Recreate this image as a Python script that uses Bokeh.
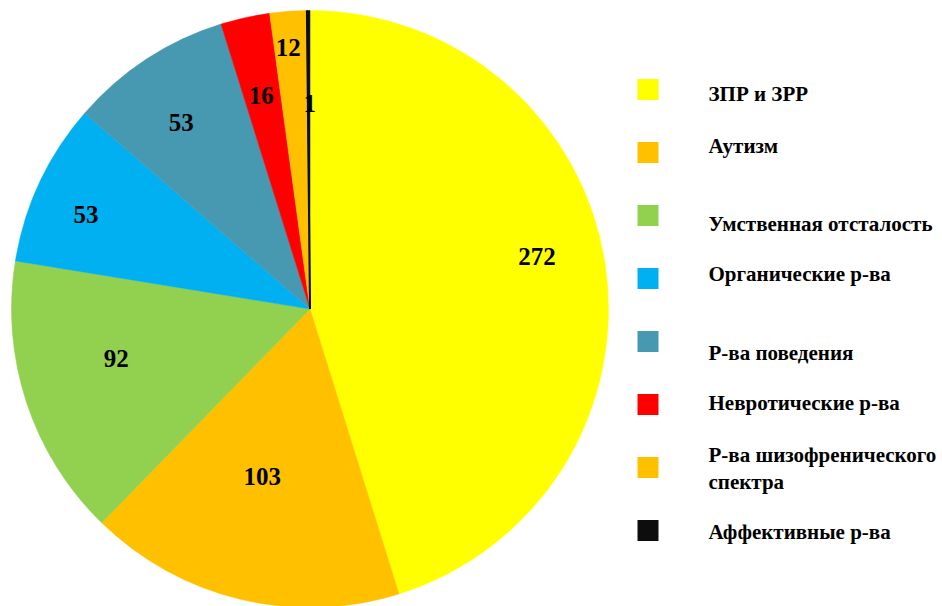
import math
from bokeh.plotting import figure
from bokeh.models import Range1d, ColumnDataSource
from bokeh.core.properties import value
from bokeh.embed import file_html
from bokeh.resources import INLINE

# ---- data ----
categories = ["ЗПР и ЗРР", "Аутизм", "Умственная отсталость", "Органические р-ва",
              "Р-ва поведения", "Невротические р-ва", "Р-ва шизофренического\nспектра",
              "Аффективные р-ва"]
counts = [272, 103, 92, 53, 53, 16, 12, 1]
colors = ["#FFFF00", "#FFC000", "#92D050", "#00B0F0", "#4699B0", "#FF0000", "#FFC000", "#0D0D0D"]

# ---- layout (screen-like coordinates, y measured up from bottom) ----
W, H = 942, 606
CX, CY, R = 309.5, H - 308.5, 298.5
label_r = [233, 174, 200, 243, 227, 219, 262, 206]
label_dtheta = [-4.3, 2.5, 4.0, -2.3, -1.4, -0.3, -0.6, 0.2]
FONT = "Liberation Serif"

p = figure(width=W, height=H, output_backend="svg", toolbar_location=None,
           x_range=Range1d(0, W), y_range=Range1d(0, H), min_border=0)
p.axis.visible = False
p.grid.visible = False
p.outline_line_color = None
p.background_fill_color = "white"
p.border_fill_color = "white"

total = sum(counts)
cum = 0
starts, ends, lx, ly = [], [], [], []
for i, v in enumerate(counts):
    a0 = math.pi / 2 - 2 * math.pi * cum / total
    a1 = math.pi / 2 - 2 * math.pi * (cum + v) / total
    starts.append(a1)
    ends.append(a0)
    mid = (cum + v / 2) / total * 360 + label_dtheta[i]  # clockwise from top, degrees
    lx.append(CX + label_r[i] * math.sin(math.radians(mid)))
    ly.append(CY + label_r[i] * math.cos(math.radians(mid)))
    cum += v

src = ColumnDataSource(dict(x=[CX] * len(counts), y=[CY] * len(counts), s=starts, e=ends,
                            c=colors, lx=lx, ly=ly, t=[str(v) for v in counts]))
p.wedge(x="x", y="y", radius=R, start_angle="s", end_angle="e", fill_color="c",
        line_color="c", line_width=0.5, source=src)
# emphasise the very thin last slice
last = len(counts) - 1
p.segment(x0=[CX], y0=[CY], x1=[CX + R * math.cos(ends[last])], y1=[CY + R * math.sin(ends[last])],
          line_color=colors[last], line_width=2)

p.text(x="lx", y="ly", text="t", source=src, text_font=value(FONT), text_font_style="bold",
       text_font_size="25px", text_align="center", text_baseline="middle", text_color="black")

# ---- legend ----
LX_SQ, LY0, STEP, SQ = 647.5, 89, 63, 21
text_dy = [4, -7, 8, -5, 11, -2, 0, 1]
sq_x, sq_y = [], []
for i, name in enumerate(categories):
    ys = LY0 + STEP * i
    sq_x.append(LX_SQ)
    sq_y.append(H - ys)
    lines = name.split("\n")
    if len(lines) == 1:
        ty = [ys + text_dy[i]]
    else:
        ty = [ys - 13, ys + 14]
    p.text(x=[708] * len(lines), y=[H - t for t in ty], text=lines, text_font=value(FONT),
           text_font_style="bold", text_font_size="21px", text_align="left",
           text_baseline="middle", text_color="black")
p.rect(x=sq_x, y=sq_y, width=SQ, height=SQ, fill_color=colors, line_color=None)

open("out.html", "w").write(file_html(p, INLINE))
